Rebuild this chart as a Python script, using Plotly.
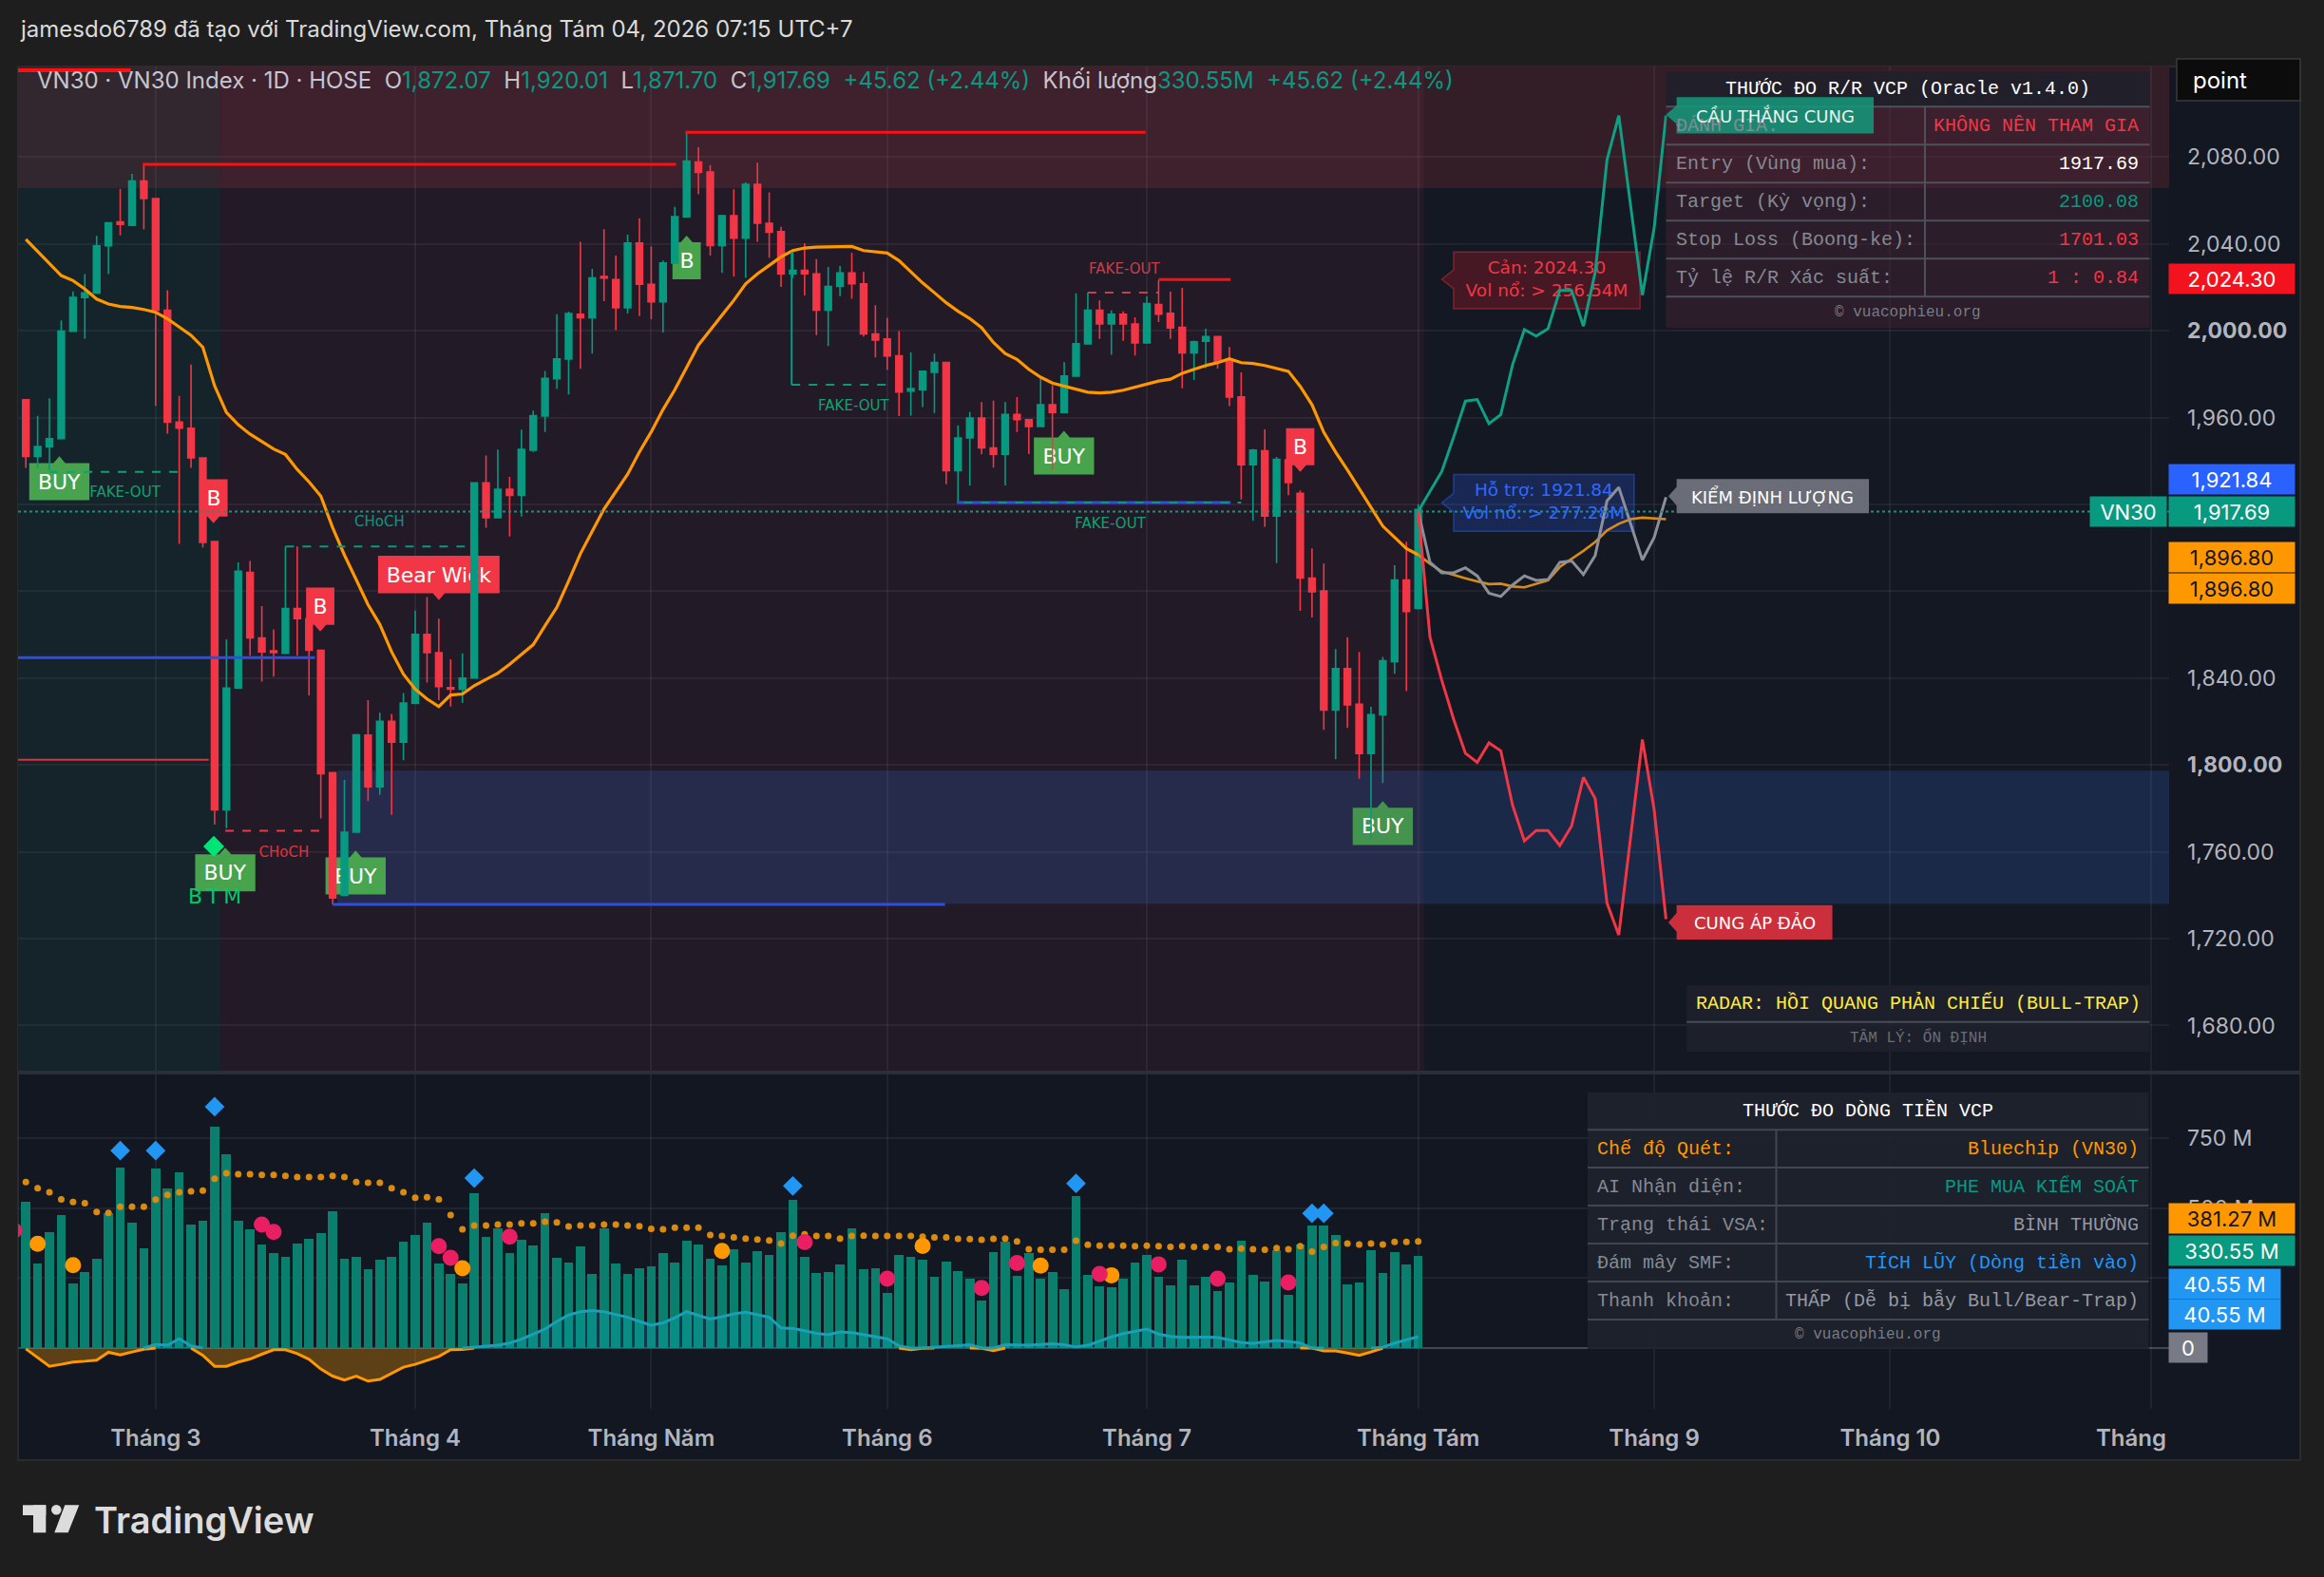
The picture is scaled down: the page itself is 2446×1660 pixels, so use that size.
import plotly.graph_objects as go
import numpy as np

W, H = 2446, 1660


def px(x):
    return x / W


def py(y):
    return 1 - y / H


# ------------------------------------------------------------------ DATA
bar_index = list(range(-11, 108))

open_ = [1968.2, 1942.1, 1946.6, 1950.3, 1999.8, 2015.3, 2017.4, 2039.1, 2050.1, 2048.5, 2068.9,
         2060.9, 2009.4, 1957.9, 1955.1, 1941.4, 1902.9, 1779.3, 1835.4, 1888.7, 1858.5,
         1852.6, 1851.4, 1872.0, 1867.4, 1852.8, 1796.5, 1740.0, 1769.0, 1813.7, 1789.9,
         1820.1, 1810.5, 1828.5, 1860.1, 1851.7, 1835.6, 1834.9, 1840.0, 1929.9, 1913.9,
         1927.0, 1924.2, 1944.9, 1960.7, 1977.9, 1987.0, 2007.6, 2006.0, 2025.0, 2023.6,
         2010.6, 2040.4, 2021.4, 2013.3, 2031.2, 2052.5, 2077.7, 2073.1, 2039.2, 2053.0,
         2042.6, 2067.4, 2049.5, 2045.6, 2026.2, 2027.8, 2026.2, 2009.5, 2020.4, 2026.6,
         2021.6, 1998.5, 1996.2, 1988.4, 1972.2, 1972.8, 1980.8, 1985.4, 1935.5, 1950.6,
         1959.8, 1946.0, 1943.1, 1961.4, 1959.0, 1955.9, 1965.9, 1962.3, 1979.1, 1994.0,
         2009.4, 2003.1, 2007.6, 2003.1, 1994.4, 2012.1, 2008.0, 2001.6, 1989.8, 1995.2,
         1997.3, 1985.8, 1969.5, 1938.3, 1944.7, 1914.6, 1940.5, 1925.1, 1886.1, 1880.1,
         1825.3, 1844.4, 1828.0, 1805.3, 1823.1, 1847.6, 1885.2, 1872.07]
high = [1968.2, 1960.8, 1968.9, 2004.8, 2018.1, 2026.1, 2043.7, 2049.7, 2065.4, 2072.3, 2076.4,
        2060.9, 2018.7, 1970.0, 1984.4, 1941.4, 1902.9, 1857.8, 1893.3, 1894.0, 1873.2,
        1862.4, 1900.6, 1900.6, 1867.4, 1852.8, 1796.5, 1793.1, 1814.3, 1829.9, 1824.0,
        1823.5, 1833.1, 1871.1, 1877.3, 1867.4, 1848.7, 1851.4, 1929.9, 1942.5, 1945.3,
        1932.7, 1954.4, 1963.2, 1981.5, 2007.6, 2008.8, 2041.0, 2028.5, 2046.8, 2034.6,
        2044.3, 2051.8, 2038.8, 2032.3, 2057.1, 2091.4, 2084.5, 2076.3, 2053.4, 2065.1,
        2068.3, 2077.4, 2063.7, 2047.9, 2036.2, 2040.3, 2033.0, 2029.4, 2029.8, 2035.8,
        2027.1, 2011.8, 2006.0, 1999.8, 1990.0, 1981.3, 1989.5, 1985.4, 1956.4, 1962.5,
        1967.1, 1967.8, 1967.1, 1969.4, 1959.0, 1978.0, 1974.9, 1985.5, 2017.2, 2017.6,
        2014.0, 2009.4, 2008.9, 2006.2, 2015.8, 2023.4, 2018.0, 2019.8, 1995.5, 2000.9,
        1997.3, 1992.5, 1980.8, 1945.6, 1954.6, 1941.9, 1940.5, 1926.4, 1899.7, 1892.8,
        1853.4, 1858.8, 1852.1, 1826.8, 1849.8, 1892.0, 1902.8, 1920.01]
low = [1936.8, 1936.8, 1935.7, 1950.3, 1999.8, 1996.3, 2017.4, 2026.1, 2043.9, 2048.5, 2046.7,
       1965.4, 1952.6, 1901.8, 1936.8, 1900.2, 1772.5, 1770.9, 1835.4, 1850.3, 1838.4,
       1840.7, 1851.4, 1850.3, 1832.0, 1775.4, 1735.8, 1740.0, 1769.0, 1783.4, 1786.2,
       1777.0, 1802.2, 1828.5, 1837.9, 1829.9, 1826.9, 1828.5, 1840.0, 1909.3, 1913.9,
       1905.2, 1914.4, 1944.2, 1953.4, 1973.3, 1970.6, 1982.4, 1989.5, 2013.6, 2000.3,
       2007.9, 2006.7, 2005.3, 1999.2, 2031.2, 2052.5, 2062.8, 2034.6, 2026.6, 2025.0,
       2024.3, 2041.0, 2033.5, 2020.2, 2024.3, 2016.3, 1998.0, 1993.0, 2015.9, 2014.7,
       1997.3, 1987.7, 1982.0, 1960.7, 1960.9, 1964.8, 1962.1, 1929.3, 1920.9, 1928.7,
       1943.1, 1936.9, 1928.7, 1953.4, 1943.2, 1955.9, 1935.9, 1962.3, 1979.1, 1993.6,
       1996.2, 1988.9, 1995.4, 1988.6, 1994.4, 2004.0, 1996.2, 1973.5, 1977.3, 1982.8,
       1982.6, 1965.3, 1922.3, 1912.4, 1909.7, 1893.0, 1924.2, 1871.0, 1867.9, 1816.2,
       1802.6, 1817.1, 1793.6, 1766.3, 1791.7, 1842.0, 1834.0, 1871.70]
close = [1942.1, 1946.6, 1950.3, 1999.8, 2015.3, 2017.4, 2039.1, 2049.7, 2049.0, 2068.9, 2060.9,
         2009.4, 1957.9, 1955.1, 1941.4, 1902.5, 1779.3, 1835.4, 1889.2, 1858.5, 1852.1,
         1851.7, 1872.0, 1867.4, 1852.8, 1796.0, 1738.8, 1769.0, 1813.9, 1789.9, 1820.1,
         1810.5, 1828.5, 1860.1, 1851.7, 1836.1, 1834.9, 1840.0, 1929.9, 1913.9, 1927.0,
         1924.2, 1945.3, 1960.9, 1978.1, 1987.0, 2007.9, 2006.0, 2024.3, 2024.3, 2010.6,
         2040.4, 2021.4, 2013.3, 2031.2, 2052.5, 2078.1, 2072.9, 2039.2, 2053.0, 2042.6,
         2067.4, 2049.5, 2045.4, 2026.2, 2027.8, 2026.2, 2009.5, 2020.4, 2026.6, 2021.6,
         1998.5, 1995.7, 1988.4, 1971.7, 1973.3, 1981.3, 1985.4, 1935.5, 1950.6, 1959.8,
         1946.0, 1943.1, 1961.4, 1959.1, 1955.9, 1965.9, 1962.3, 1979.1, 1994.0, 2009.4,
         2003.1, 2007.6, 2003.1, 1994.4, 2012.5, 2007.6, 2001.3, 1989.8, 1994.9, 1997.3,
         1985.8, 1969.5, 1938.3, 1945.0, 1914.6, 1940.8, 1930.1, 1886.1, 1879.7, 1825.3,
         1844.4, 1827.7, 1805.3, 1823.1, 1848.0, 1885.2, 1870.7, 1917.69]
ma_line = [2042.1, 2036.4, 2030.7, 2025.4, 2023.1, 2019.2, 2014.6, 2012.3, 2011.2, 2010.7, 2009.8,
           2008.5, 2005.5, 2001.6, 1997.9, 1992.4, 1974.6, 1962.4, 1956.7, 1952.4, 1948.9,
           1945.5, 1943.0, 1936.1, 1930.4, 1923.8, 1909.3, 1896.7, 1885.3, 1873.8, 1864.7,
           1852.1, 1841.8, 1834.9, 1830.4, 1826.9, 1832.2, 1832.7, 1836.5, 1839.5, 1842.3,
           1846.4, 1851.0, 1855.4, 1864.1, 1872.6, 1884.7, 1897.3, 1907.6, 1917.9, 1925.9,
           1933.9, 1944.2, 1953.4, 1963.7, 1972.8, 1983.1, 1993.4, 2000.3, 2007.2, 2014.0,
           2021.6, 2026.2, 2030.1, 2034.0, 2036.9, 2038.1, 2038.5, 2038.5, 2038.8, 2038.8,
           2036.9, 2036.2, 2035.8, 2032.3, 2027.1, 2022.0, 2017.5, 2012.9, 2009.0, 2005.6,
           2001.4, 1994.6, 1989.5, 1986.8, 1982.2, 1978.6, 1975.9, 1974.4, 1973.1, 1971.7,
           1971.3, 1971.7, 1972.6, 1974.1, 1975.5, 1976.8, 1977.7, 1980.4, 1982.2, 1984.0,
           1985.3, 1987.1, 1985.3, 1984.9, 1984.0, 1982.6, 1981.3, 1974.4, 1965.9, 1953.2,
           1944.1, 1935.9, 1927.2, 1918.2, 1910.0, 1904.8, 1899.7, 1896.8]

# projected paths (bar 107 = last candle, up to bar 128)
proj_index = list(range(107, 129))
proj_green = [1916.8, 1926.0, 1935.2, 1950.9, 1967.6, 1968.3, 1957.2, 1961.4, 1984.4, 2000.5, 1997.5,
              2000.9, 2018.6, 2018.6, 2002.1, 2026.9, 2078.7, 2099.1, 2057.8, 2016.4, 2047.4, 2099.1]
proj_red = [1916.8, 1858.8, 1839.0, 1821.1, 1805.4, 1801.2, 1810.2, 1806.5, 1781.4, 1765.0, 1769.8,
            1769.8, 1762.9, 1771.9, 1794.3, 1784.5, 1736.4, 1721.7, 1766.7, 1811.7, 1779.3, 1729.0]
proj_gray = [1916.8, 1893.3, 1888.5, 1888.5, 1890.8, 1887.1, 1879.1, 1877.6, 1882.9, 1887.1, 1885.0,
             1885.4, 1893.3, 1894.0, 1887.7, 1896.5, 1921.6, 1927.9, 1911.1, 1894.4, 1904.8, 1923.3]
proj_ma = [1896.8, 1892.7, 1889.1, 1887.7, 1886.0, 1884.5, 1883.3, 1883.5, 1882.2, 1881.8, 1883.5,
           1885.0, 1891.2, 1894.8, 1898.6, 1902.7, 1908.0, 1911.1, 1913.2, 1913.9, 1913.6, 1913.2]

# volume pane (millions)
volume = [522, 302, 415, 475, 231, 271, 319, 483, 645, 449, 356,
          641, 570, 628, 441, 455, 790, 692, 455, 424, 370,
          341, 325, 373, 390, 409, 488, 319, 325, 282, 315,
          325, 379, 404, 448, 302, 265, 231, 553, 396, 429,
          341, 387, 366, 483, 322, 305, 362, 266, 429, 302,
          266, 285, 293, 339, 305, 383, 370, 319, 296, 353,
          305, 345, 332, 415, 530, 327, 268, 271, 299, 429,
          282, 285, 197, 332, 327, 315, 254, 309, 275, 248,
          170, 344, 381, 259, 339, 248, 271, 210, 543, 261,
          220, 217, 248, 305, 332, 254, 224, 315, 224, 254,
          203, 234, 383, 261, 237, 350, 190, 370, 438, 438,
          404, 227, 234, 349, 268, 343, 299, 330.55]
vol_ma = [593, 571, 556, 531, 522, 517, 486, 483, 505, 505, 505,
          530, 547, 556, 560, 562, 605, 624, 621, 621, 618,
          618, 615, 611, 611, 611, 615, 611, 593, 590, 590,
          571, 556, 537, 539, 531, 475, 424, 438, 438, 441,
          441, 445, 445, 451, 449, 434, 438, 438, 441, 441,
          438, 435, 426, 424, 430, 430, 430, 404, 400, 395,
          391, 388, 384, 373, 401, 406, 400, 400, 391, 400,
          401, 400, 400, 400, 400, 398, 395, 395, 390, 389,
          387, 390, 391, 381, 353, 351, 351, 351, 383, 369,
          366, 366, 366, 364, 366, 364, 361, 364, 361, 361,
          361, 353, 355, 353, 351, 357, 353, 364, 344, 361,
          375, 373, 370, 373, 370, 379, 379, 381.27]
smf = [-3, -35, -65, -58, -50, -47, -43, -15, -24, -14, -4,
       13, 10, 33, 8, -26, -65, -65, -50, -39, -22,
       -6, -6, -20, -40, -75, -100, -114, -100, -118, -112,
       -90, -68, -58, -45, -30, -6, -5, 4, 7, 10,
       18, 32, 50, 68, 95, 118, 130, 134, 130, 121,
       110, 95, 82, 90, 108, 130, 118, 104, 112, 122,
       128, 118, 110, 72, 70, 62, 53, 48, 58, 55,
       47, 40, 33, 8, -6, -1, 3, 6, 9, 12,
       -1, -9, 12, 10, 10, 13, 15, 12, 4, 10,
       25, 40, 52, 60, 68, 50, 42, 38, 39, 39,
       38, 30, 20, 17, 22, 27, 24, 18, 0, -10,
       -10, -18, -26, -14, 3, 18, 30, 40.55]
orange_sig_x = [-10, -7, 26, 48, 65, 75, 81]
orange_sig_y = [372, 296, 285, 347, 365, 294, 260]
pink_sig_x = [-12, 9, 10, 24, 25, 30, 55, 62, 70, 73, 80, 85, 90, 96]
pink_sig_y = [420, 441, 415, 364, 322, 398, 378, 248, 215, 304, 265, 299, 248, 234]
diamond_x = [-3, 0, 5, 27, 54, 78, 98, 99]
diamond_y = [705, 705, 862, 607, 579, 588, 481, 481]

month_ticks = [0, 22, 42, 62, 84, 107, 127, 147, 169.1]
month_labels = ["Tháng 3", "Tháng 4", "Tháng Năm", "Tháng 6", "Tháng 7", "Tháng Tám", "Tháng 9", "Tháng 10", ""]
price_ticks = [1680, 1720, 1760, 1800, 1840, 1880, 1920, 1960, 2000, 2040, 2080]
hidden_price_ticks = [1880, 1920]          # covered by price badges
vol_ticks = [0, 250, 500, 750]
vol_tick_labels = ["", "", "500 M", "750 M"]   # 0 and 250 M sit under badges

# ------------------------------------------------------------------ STYLE
UP = "#089981"
DN = "#f23645"
GRID = "rgba(120,123,134,0.13)"
AXIS_TXT = "#b2b5be"
MONO = "Liberation Mono"
SANS = "DejaVu Sans"
UI = "Inter"

X0, X1 = -11.66, 170.64
shapes = []
annotations = []


def rect_paper(x0, y0, x1, y1, fill, line=None, lw=0, layer="above"):
    shapes.append(dict(type="rect", xref="paper", yref="paper", x0=px(x0), x1=px(x1),
                       y0=py(y1), y1=py(y0), fillcolor=fill,
                       line=dict(color=line or "rgba(0,0,0,0)", width=lw), layer=layer))


def line_paper(x0, y0, x1, y1, color, width, dash="solid", layer="above"):
    shapes.append(dict(type="line", xref="paper", yref="paper", x0=px(x0), x1=px(x1),
                       y0=py(y0), y1=py(y1), line=dict(color=color, width=width, dash=dash), layer=layer))


def text_paper(x, y, text, size, color, family=MONO, xanchor="center", weight=None):
    f = dict(size=size, color=color, family=family)
    if weight:
        f["weight"] = weight
    annotations.append(dict(xref="paper", yref="paper", x=px(x), y=py(y), text=text, showarrow=False,
                            font=f, xanchor=xanchor, yanchor="middle"))


def hline(x0, x1, y, color, width, dash="solid", layer="above"):
    shapes.append(dict(type="line", xref="x", yref="y", x0=x0, x1=x1, y0=y, y1=y,
                       line=dict(color=color, width=width, dash=dash), layer=layer))


def vline(x, y0, y1, color, width, dash="solid"):
    shapes.append(dict(type="line", xref="x", yref="y", x0=x, x1=x, y0=y0, y1=y1,
                       line=dict(color=color, width=width, dash=dash), layer="above"))


def label_path(x0, x1, y0, y1, pointer, tip=None):
    xc = (x0 + x1) / 2
    dx, dy = 0.5, 3.1
    if pointer == "up":
        pts = [(x0, y0), (x1, y0), (x1, y1), (xc + dx, y1), (xc, y1 + dy), (xc - dx, y1), (x0, y1)]
    elif pointer == "down":
        pts = [(x0, y1), (x1, y1), (x1, y0), (xc + dx, y0), (xc, y0 - dy), (xc - dx, y0), (x0, y0)]
    else:
        tx, ty = tip
        hh = 4.3
        pts = [(x0, y0), (x1, y0), (x1, y1), (x0, y1), (x0, ty + hh), (tx, ty), (x0, ty - hh)]
    return "M " + " L ".join(f"{a:.3f},{b:.3f}" for a, b in pts) + " Z"


# ---- chart frame / backgrounds
rect_paper(19, 70, 2421, 1537, "#131722", "#2b2b2e", 2, layer="below")
for xa, xb, col in [(X0, 5.5, "#15232b"), (5.5, 107.5, "#231a28"), (107.5, X1, "#141823")]:
    shapes.append(dict(type="rect", xref="x", yref="y domain", x0=xa, x1=xb, y0=0, y1=1,
                       fillcolor=col, line=dict(width=0), layer="below"))
shapes.append(dict(type="rect", xref="x", yref="y", x0=X0, x1=X1, y0=2065.7, y1=2121.7,
                   fillcolor="rgba(228,66,73,0.15)", line=dict(width=0), layer="below"))
shapes.append(dict(type="rect", xref="x", yref="y", x0=15.4, x1=X1, y0=1736.0, y1=1797.4,
                   fillcolor="rgba(50,111,215,0.2)", line=dict(width=0), layer="below"))

# ---- key levels
hline(X0, -2.1, 2120.0, "#ff1010", 4)
hline(-1.1, 44.1, 2076.6, "#ff1010", 3)
hline(44.9, 83.9, 2091.4, "#ff1010", 3)
hline(85.0, 91.1, 2023.6, "#ff1010", 3)
hline(X0, 4.5, 1802.4, "#e0323c", 2)
hline(X0, 13.5, 1849.4, "#2e4ee0", 3)
hline(15.0, 66.9, 1735.8, "#2e4ee0", 3)
hline(67.9, 91.1, 1920.9, "#2e4ee0", 3)
hline(68.5, 92.0, 1920.9, UP, 2, "dash")
hline(-9.0, 2.0, 1935.0, "#14a070", 2, "dash")
hline(11.0, 26.2, 1900.6, UP, 2, "dash")
hline(5.9, 14.0, 1769.7, DN, 2, "dash")
hline(53.9, 61.9, 1975.1, UP, 2, "dash")
vline(53.9, 1975.1, 2036.2, UP, 2)
hline(79.0, 85.0, 2017.6, "#c2414b", 2, "dash")
line_paper(19, 538.4, 2283, 538.4, UP, 2, "dot")
line_paper(19, 1129, 2421, 1129, "#2a2e39", 4)
shapes.append(dict(type="line", xref="x2", yref="y2", x0=X0, x1=X1, y0=0, y1=0,
                   line=dict(color="#3a3e4a", width=2), layer="below"))

fig = go.Figure()

# ---- chart labels: boxes are shapes under the candles, text drawn in the bar layer (under candles)
LBL_G = "rgba(76,175,80,0.92)"
LBL_R = "#f23645"
main_labels = [
    ("BUY", -8.16, 1930.5, 5.1, 17.1, LBL_G, "up"),
    ("BUY", 5.9, 1750.3, 5.1, 17.1, LBL_G, "up"),
    ("BUY", 16.95, 1748.9, 5.1, 17.1, LBL_G, "up"),
    ("BUY", 76.98, 1942.3, 5.1, 17.1, LBL_G, "up"),
    ("BUY", 104.0, 1771.7, 5.1, 17.1, "rgba(76,175,80,0.8)", "up"),
    ("B", 45.0, 2032.2, 2.4, 17.1, LBL_G, "up"),
    ("B", 4.9, 1923.0, 2.4, 17.1, LBL_R, "down"),
    ("B", 13.95, 1873.1, 2.4, 17.1, LBL_R, "down"),
    ("B", 97.0, 1946.6, 2.4, 17.1, LBL_R, "down"),
    ("Bear Wick", 24.0, 1887.7, 10.3, 17.3, LBL_R, "down"),
]
bx, bb, bh, bw, bt = [], [], [], [], []
for t, xc, yc, w, h, col, ptr in main_labels:
    shapes.append(dict(type="path", xref="x", yref="y",
                       path=label_path(xc - w / 2, xc + w / 2, yc - h / 2, yc + h / 2, ptr),
                       fillcolor=col, line=dict(width=0), layer="between"))
    bx.append(xc)
    bb.append(yc - h / 2)
    bh.append(h)
    bw.append(w)
    bt.append(t)
fig.add_trace(go.Bar(x=bx, y=bh, base=bb, width=bw, text=bt, textposition="inside",
                     insidetextanchor="middle", textangle=0, constraintext="none",
                     textfont=dict(family=SANS, size=22, color="#ffffff"),
                     marker=dict(color="rgba(0,0,0,0)", line=dict(width=0)),
                     xaxis="x", yaxis="y", hoverinfo="skip"))

# resistance / support info boxes (projection lines pass over them)
info_boxes = [
    ("Cản: 2024.30<br>Vol nổ: > 256.54M", 110.0, 125.8, 2010.1, 2036.3, (109.0, 2023.7),
     "rgba(160,25,38,0.35)", "rgba(220,50,60,0.45)", "#f23645"),
    ("Hỗ trợ: 1921.84<br>Vol nổ: > 277.28M", 110.0, 125.3, 1907.6, 1933.8, (109.0, 1920.8),
     "rgba(41,98,255,0.22)", "rgba(41,98,255,0.45)", "#3068ff"),
]
for t, x0, x1, y0, y1, tip, fill, lc, tc in info_boxes:
    shapes.append(dict(type="path", xref="x", yref="y", path=label_path(x0, x1, y0, y1, "left", tip),
                       fillcolor=fill, line=dict(color=lc, width=1.5), layer="between"))
    fig.add_trace(go.Scatter(x=[(x0 + x1) / 2], y=[(y0 + y1) / 2], text=[t], mode="text",
                             textposition="middle center",
                             textfont=dict(family=SANS, size=18.5, color=tc), xaxis="x", yaxis="y",
                             hoverinfo="skip"))

# ---- candles
fig.add_trace(go.Candlestick(
    x=bar_index, open=open_, high=high, low=low, close=close,
    increasing=dict(line=dict(color=UP, width=1.6), fillcolor=UP),
    decreasing=dict(line=dict(color=DN, width=1.6), fillcolor=DN),
    whiskerwidth=0, xaxis="x", yaxis="y", hoverinfo="skip"))

# moving average & projections
fig.add_trace(go.Scatter(x=bar_index, y=ma_line, mode="lines", line=dict(color="#ff9800", width=3.2),
                         xaxis="x", yaxis="y", hoverinfo="skip"))
fig.add_trace(go.Scatter(x=proj_index, y=proj_ma, mode="lines", line=dict(color="#d88c14", width=2.6),
                         xaxis="x", yaxis="y", hoverinfo="skip"))
fig.add_trace(go.Scatter(x=proj_index, y=proj_gray, mode="lines", line=dict(color="#8c8f99", width=3),
                         xaxis="x", yaxis="y", hoverinfo="skip"))
fig.add_trace(go.Scatter(x=proj_index, y=proj_red, mode="lines", line=dict(color="#f23645", width=3),
                         xaxis="x", yaxis="y", hoverinfo="skip"))
fig.add_trace(go.Scatter(x=proj_index, y=proj_green, mode="lines", line=dict(color="#0f9f84", width=3),
                         xaxis="x", yaxis="y", hoverinfo="skip"))

# small structure texts
small_txt = [
    ("FAKE-OUT", -2.6, 1925.0, "#14a070"),
    ("CHoCH", 18.97, 1911.4, UP),
    ("CHoCH", 10.88, 1759.2, "#e0323c"),
    ("FAKE-OUT", 59.15, 1964.8, "#14a070"),
    ("FAKE-OUT", 82.1, 2028.0, "#c2414b"),
    ("FAKE-OUT", 80.9, 1910.5, "#14a070"),
]
for t, x, y, c in small_txt:
    fig.add_trace(go.Scatter(x=[x], y=[y], text=[t], mode="text", textposition="middle center",
                             textfont=dict(family=SANS, size=15, color=c), xaxis="x", yaxis="y",
                             hoverinfo="skip"))
fig.add_trace(go.Scatter(x=[4.93], y=[1762.5], mode="markers",
                         marker=dict(symbol="diamond", size=17, color="#00e676"),
                         xaxis="x", yaxis="y", hoverinfo="skip"))
fig.add_trace(go.Scatter(x=[5.02], y=[1738.7], text=["B\u2009T\u2009M"], mode="text",
                         textposition="middle center",
                         textfont=dict(family=SANS, size=22, color="#00c96a"), xaxis="x", yaxis="y",
                         hoverinfo="skip"))

# ---- volume pane
fig.add_trace(go.Bar(x=bar_index, y=volume, width=0.78, marker=dict(color="#0b7f6d", line=dict(width=0)),
                     xaxis="x2", yaxis="y2", hoverinfo="skip"))
smf_a = np.array(smf, dtype=float)
pos_fill = np.maximum(smf_a, 0)
neg_fill = np.minimum(smf_a, 0)
pos_line, neg_line = [], []
for k, v in enumerate(smf_a):
    prev_v = smf_a[k - 1] if k > 0 else v
    next_v = smf_a[k + 1] if k < len(smf_a) - 1 else v
    pos_line.append(max(v, 0) if (v >= 0 or prev_v >= 0 or next_v >= 0) else None)
    neg_line.append(min(v, 0) if (v <= 0 or prev_v <= 0 or next_v <= 0) else None)
fig.add_trace(go.Scatter(x=bar_index, y=neg_fill, mode="lines", line=dict(width=0), fill="tozeroy",
                         fillcolor="rgba(255,152,0,0.32)", xaxis="x2", yaxis="y2", hoverinfo="skip"))
fig.add_trace(go.Scatter(x=bar_index, y=pos_fill, mode="lines", line=dict(width=0), fill="tozeroy",
                         fillcolor="rgba(0,188,212,0.22)", xaxis="x2", yaxis="y2", hoverinfo="skip"))
fig.add_trace(go.Scatter(x=bar_index, y=neg_line, mode="lines", line=dict(color="#ff9800", width=3),
                         connectgaps=False, xaxis="x2", yaxis="y2", hoverinfo="skip"))
fig.add_trace(go.Scatter(x=bar_index, y=pos_line, mode="lines", line=dict(color="#1a9fb5", width=3),
                         connectgaps=False, xaxis="x2", yaxis="y2", hoverinfo="skip"))
fig.add_trace(go.Scatter(x=bar_index, y=vol_ma, mode="markers", marker=dict(size=7, color="#d98a0f"),
                         xaxis="x2", yaxis="y2", hoverinfo="skip"))
fig.add_trace(go.Scatter(x=orange_sig_x, y=orange_sig_y, mode="markers", marker=dict(size=17, color="#ff9800"),
                         xaxis="x2", yaxis="y2", hoverinfo="skip"))
fig.add_trace(go.Scatter(x=pink_sig_x, y=pink_sig_y, mode="markers", marker=dict(size=17, color="#e91e63"),
                         xaxis="x2", yaxis="y2", hoverinfo="skip"))
fig.add_trace(go.Scatter(x=diamond_x, y=diamond_y, mode="markers",
                         marker=dict(symbol="diamond", size=16, color="#2196f3"),
                         xaxis="x2", yaxis="y2", hoverinfo="skip"))

# ---- R/R table (top right)
TX0, TX1, TSPLIT = 1753.5, 2262.5, 2026
rect_paper(TX0, 75, TX1, 112.3, "rgba(30,32,42,0.88)")
rect_paper(TX0, 112.3, TX1, 345, "rgba(70,35,50,0.45)")
for yy in [112.3, 152.3, 192.3, 232.3, 272.3, 312.3]:
    line_paper(TX0, yy, TX1, yy, "#4e505c", 2)
line_paper(TSPLIT, 112.3, TSPLIT, 312.3, "#4e505c", 2)
text_paper((TX0 + TX1) / 2, 93.6, "THƯỚC ĐO R/R VCP (Oracle v1.4.0)", 20, "#ffffff")
rr_rows = [("ĐÁNH GIÁ:", "KHÔNG NÊN THAM GIA", "#f23645"),
           ("Entry (Vùng mua):", "1917.69", "#ffffff"),
           ("Target (Kỳ vọng):", "2100.08", "#089981"),
           ("Stop Loss (Boong-ke):", "1701.03", "#f23645"),
           ("Tỷ lệ R/R Xác suất:", "1 : 0.84", "#f23645")]
for k, (lab, val, vc) in enumerate(rr_rows):
    yc = 132.3 + 40 * k
    text_paper(1761.6, yc, lab, 20, "#868993", xanchor="left")
    text_paper(2252.6, yc, val, 20, vc, xanchor="right")
text_paper((TX0 + TX1) / 2, 328.6, "© vuacophieu.org", 16, "#787b86")

# right-side pointer labels
right_labels = [
    ("KIỂM ĐỊNH LƯỢNG", 128.9, 145.2, 1915.9, 1931.7, (128.2, 1923.8), "#6a6d78", "#ffffff"),
    ("CUNG ÁP ĐẢO", 128.9, 142.1, 1719.6, 1735.4, (128.2, 1727.5), "#cc2f3c", "#ffffff"),
    ("CẦU THẮNG CUNG", 128.9, 145.6, 2090.8, 2107.6, (128.0, 2099.5), "rgba(22,150,122,0.88)", "#e8f5f2"),
]
for t, x0, x1, y0, y1, tip, fill, tc in right_labels:
    shapes.append(dict(type="path", xref="x", yref="y", path=label_path(x0, x1, y0, y1, "left", tip),
                       fillcolor=fill, line=dict(width=0), layer="above"))
    annotations.append(dict(xref="x", yref="y", x=(x0 + x1) / 2, y=(y0 + y1) / 2, text=t, showarrow=False,
                            font=dict(family=SANS, size=18, color=tc), xanchor="center", yanchor="middle"))

# ---- radar box
rect_paper(1775.2, 1037.3, 2262.4, 1075, "rgba(30,34,45,0.92)")
rect_paper(1775.2, 1076.7, 2262.4, 1107.3, "rgba(30,34,45,0.85)")
line_paper(1775.2, 1075.8, 2262.4, 1075.8, "#4a4e59", 2)
text_paper(2018.8, 1056, "RADAR: HỒI QUANG PHẢN CHIẾU (BULL-TRAP)", 20, "#ffeb3b")
text_paper(2018.8, 1092, "TÂM LÝ: ỔN ĐỊNH", 16, "#6a6d78")

# ---- money-flow table (bottom right)
BX0, BX1, BSPLIT = 1671, 2261.5, 1869.5
rect_paper(BX0, 1150, BX1, 1420, "rgba(30,34,45,0.9)")
for yy in [1189.3, 1229, 1269, 1309, 1349, 1389]:
    line_paper(BX0, yy, BX1, yy, "#434651", 2)
line_paper(BSPLIT, 1189.3, BSPLIT, 1389, "#434651", 2)
text_paper((BX0 + BX1) / 2, 1169, "THƯỚC ĐO DÒNG TIỀN VCP", 20, "#ffffff")
flow_rows = [("Chế độ Quét:", "#ff9800", "Bluechip (VN30)", "#ff9800"),
             ("AI Nhận diện:", "#868993", "PHE MUA KIỂM SOÁT", "#089981"),
             ("Trạng thái VSA:", "#868993", "BÌNH THƯỜNG", "#9598a1"),
             ("Đám mây SMF:", "#868993", "TÍCH LŨY (Dòng tiền vào)", "#2196f3"),
             ("Thanh khoản:", "#868993", "THẤP (Dễ bị bẫy Bull/Bear-Trap)", "#9598a1")]
for k, (lab, lc, val, vc) in enumerate(flow_rows):
    yc = 1209.2 + 40 * k
    text_paper(1678.5, yc, lab, 20, lc, xanchor="left")
    text_paper(2252.5, yc, val, 20, vc, xanchor="right")
text_paper((BX0 + BX1) / 2, 1404.5, "© vuacophieu.org", 16, "#787b86")


# ---- price-scale badges
def badge(y, text, bg, fg, x0=2283, w=132):
    annotations.append(dict(xref="paper", yref="paper", x=px(x0 + w / 2), y=py(y), text=text, showarrow=False,
                            font=dict(family=UI, size=22, color=fg), bgcolor=bg, width=w, height=31,
                            borderpad=0, xanchor="center", yanchor="middle"))


badge(293.3, "2,024.30", "#f2131f", "#ffffff")
badge(504.0, "1,921.84", "#2962ff", "#ffffff")
badge(538.4, "1,917.69", "#089981", "#ffffff")
badge(538.4, "VN30", "#089981", "#ffffff", x0=2200, w=80)
badge(586.6, "1,896.80", "#ff9800", "#131722")
badge(619.3, "1,896.80", "#ff9800", "#131722")
badge(1282.0, "381.27 M", "#ff9800", "#131722")
badge(1316.6, "330.55 M", "#089981", "#ffffff")
badge(1351.0, "40.55 M", "#2196f3", "#ffffff", w=117)
badge(1383.7, "40.55 M", "#2196f3", "#ffffff", w=117)
badge(1418.0, "0", "#787b86", "#ffffff", w=40)

# "point" box
rect_paper(2291, 62, 2421, 106, "#0c0c0c", "#3a3a3a", 1.5)
text_paper(2306, 84, "point", 24, "#ffffff", family=UI, xanchor="left")

# ---- headers and branding
text_paper(19, 31, "jamesdo6789 đã tạo với TradingView.com, Tháng Tám 04, 2026 07:15 UTC+7", 24, "#dadada",
           family=UI, xanchor="left")
G = "#c3c6ce"
T = "#089981"
sp = "\u00a0\u00a0"
hdr = (f"<span style='color:{G}'>VN30 · VN30 Index · 1D · HOSE</span>{sp}"
       f"<span style='color:{G}'>O</span><span style='color:{T}'>1,872.07</span>{sp}"
       f"<span style='color:{G}'>H</span><span style='color:{T}'>1,920.01</span>{sp}"
       f"<span style='color:{G}'>L</span><span style='color:{T}'>1,871.70</span>{sp}"
       f"<span style='color:{G}'>C</span><span style='color:{T}'>1,917.69</span>{sp}"
       f"<span style='color:{T}'>+45.62 (+2.44%)</span>{sp}"
       f"<span style='color:{G}'>Khối lượng</span><span style='color:{T}'>330.55M</span>{sp}"
       f"<span style='color:{T}'>+45.62 (+2.44%)</span>")
text_paper(37, 85, hdr, 24, G, family=UI, xanchor="left")

# TradingView logo
LOGO = "#dcdcdc"
rect_paper(24, 1584.3, 48.3, 1595, LOGO, layer="above")
rect_paper(35, 1584.3, 48.3, 1613.3, LOGO, layer="above")
shapes.append(dict(type="circle", xref="paper", yref="paper", x0=px(54), x1=px(64.6), y0=py(1594.6),
                   y1=py(1584), fillcolor=LOGO, line=dict(width=0)))
shapes.append(dict(type="path", xref="paper", yref="paper",
                   path=f"M {px(68.3)},{py(1584.3)} L {px(83.3)},{py(1584.3)} L {px(71.7)},{py(1613.3)} "
                        f"L {px(57.3)},{py(1613.3)} Z", fillcolor=LOGO, line=dict(width=0)))
text_paper(97, 1600, "TradingView", 38, LOGO, family=UI, xanchor="left", weight=600)

# truncated last month label
annotations.append(dict(xref="x2", yref="paper", x=167.4, y=py(1513), text="Tháng", showarrow=False,
                        font=dict(family=UI, size=24, color=AXIS_TXT, weight=600),
                        xanchor="center", yanchor="middle"))

# ------------------------------------------------------------------ LAYOUT
price_text = []
for v in price_ticks:
    if v in hidden_price_ticks:
        price_text.append("")
    elif v in (2000, 1800):
        price_text.append(f"<b>{v:,.2f}</b>")
    else:
        price_text.append(f"{v:,.2f}")

fig.update_layout(
    width=W, height=H, autosize=False,
    margin=dict(l=0, r=0, t=0, b=0, pad=0),
    paper_bgcolor="#1e1e1e", plot_bgcolor="#141823",
    showlegend=False, hovermode=False, boxgap=0.22, bargap=0, barmode="overlay",
    shapes=shapes, annotations=annotations,
    xaxis=dict(domain=[px(19), px(2283)], range=[X0, X1], anchor="y", showticklabels=False,
               tickvals=month_ticks, showgrid=True, gridcolor=GRID, gridwidth=2, zeroline=False,
               showline=False, rangeslider=dict(visible=False), fixedrange=True),
    yaxis=dict(domain=[py(1127), py(70)], range=[1659.2, 2121.7], side="right", anchor="x",
               tickvals=price_ticks, ticktext=price_text, ticks="", ticklabelstandoff=18,
               tickfont=dict(family=UI, size=23, color=AXIS_TXT), showgrid=True, gridcolor=GRID,
               gridwidth=2, zeroline=False, showline=False, fixedrange=True),
    xaxis2=dict(domain=[px(19), px(2283)], range=[X0, X1], matches="x", anchor="y2",
                tickvals=month_ticks, ticktext=month_labels, ticks="", ticklabelstandoff=14,
                tickfont=dict(family=UI, size=24, color=AXIS_TXT, weight=600), showgrid=True,
                gridcolor=GRID, gridwidth=2, zeroline=False, showline=False,
                rangeslider=dict(visible=False), fixedrange=True),
    yaxis2=dict(domain=[py(1483), py(1131)], range=[-217, 977], side="right", anchor="x2",
                tickvals=vol_ticks, ticktext=vol_tick_labels, ticks="", ticklabelstandoff=18,
                tickfont=dict(family=UI, size=23, color=AXIS_TXT), showgrid=True, gridcolor=GRID,
                gridwidth=2, zeroline=False, showline=False, fixedrange=True),
)

fig.write_html("out.html", config={"displayModeBar": False},
               post_script="document.body.style.margin='0';document.body.style.overflow='hidden';")
